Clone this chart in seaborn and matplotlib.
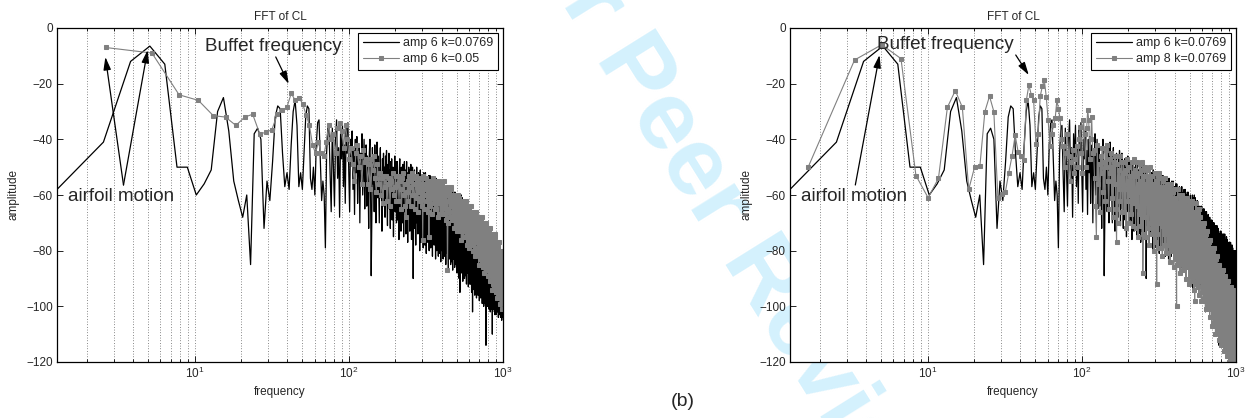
import numpy as np
import pandas as pd
import matplotlib
matplotlib.use("Agg")
import matplotlib.pyplot as plt
import seaborn as sns
from matplotlib.ticker import LogLocator, NullFormatter, FixedLocator

# ---------------- data (dB amplitude per FFT bin) ----------------
# series "amp 6 k=0.0769" (same in both panels), bins up to 1000 Hz
black_db = [
    -58, -41, -12, -6.5, -13, -50, -50, -60, -56, -51,
    -30, -25, -37, -55, -62, -68, -60, -85, -38, -36,
    -40, -72, -55, -62, -48, -32, -28, -29, -45, -57,
    -52, -58, -42, -30, -26, -35, -57, -52, -58, -45,
    -32, -28, -29, -54, -58, -50, -60, -42, -34, -33,
    -48, -62, -55, -60, -79, -45, -36, -35, -52, -66,
    -36, -50, -64, -40, -33, -54, -43, -68, -38, -47, -35, -57, -42, -63, -36, -45, -34, -52, -66, -40,
    -47, -37, -58, -44, -67, -40, -52, -39, -63, -49, -42, -70, -45, -53, -38, -60, -50, -40, -65, -47,
    -42, -64, -46, -54, -72, -45, -40, -59, -89, -69, -43, -56, -48, -66, -42, -53, -70, -46, -41, -61,
    -46, -58, -70, -49, -43, -61, -52, -73, -47, -55, -45, -64, -50, -68, -46, -54, -44, -60, -71, -49,
    -54, -45, -65, -51, -72, -48, -59, -47, -69, -56, -50, -75, -53, -60, -46, -66, -57, -48, -70, -54,
    -48, -69, -53, -60, -76, -51, -47, -64, -56, -73, -50, -62, -54, -70, -49, -59, -75, -53, -48, -66,
    -51, -62, -74, -54, -48, -65, -57, -77, -52, -60, -50, -68, -55, -73, -51, -58, -49, -64, -76, -54,
    -58, -50, -68, -90, -75, -53, -63, -51, -72, -60, -54, -78, -57, -64, -50, -70, -61, -53, -74, -58,
    -52, -73, -57, -64, -80, -55, -51, -68, -60, -77, -54, -66, -58, -74, -53, -63, -79, -57, -52, -70,
    -55, -66, -78, -58, -52, -69, -61, -81, -56, -64, -54, -72, -59, -77, -55, -62, -53, -68, -80, -58,
    -62, -53, -72, -59, -79, -56, -66, -55, -76, -63, -57, -82, -60, -68, -54, -73, -65, -56, -78, -62,
    -55, -76, -60, -67, -83, -58, -54, -71, -63, -80, -57, -69, -61, -77, -56, -66, -82, -60, -55, -73,
    -58, -69, -81, -61, -55, -72, -64, -84, -59, -67, -57, -75, -62, -80, -58, -65, -56, -71, -83, -61,
    -65, -56, -75, -62, -82, -59, -69, -58, -79, -66, -60, -85, -63, -71, -57, -76, -68, -59, -81, -65,
    -58, -79, -63, -70, -86, -61, -57, -74, -66, -83, -60, -72, -64, -80, -59, -69, -85, -63, -58, -76,
    -61, -72, -84, -64, -58, -75, -67, -87, -62, -70, -60, -78, -65, -83, -61, -68, -59, -74, -86, -64,
    -68, -59, -78, -65, -85, -62, -72, -61, -82, -69, -63, -88, -66, -74, -60, -79, -71, -62, -84, -68,
    -62, -82, -66, -73, -90, -64, -60, -78, -69, -95, -63, -75, -67, -84, -61, -72, -88, -66, -60, -80,
    -64, -76, -88, -67, -61, -79, -70, -91, -65, -73, -63, -82, -68, -87, -64, -72, -62, -78, -90, -67,
    -72, -63, -82, -69, -89, -66, -76, -65, -86, -73, -67, -92, -70, -78, -64, -83, -75, -66, -88, -72,
    -65, -86, -70, -77, -93, -68, -64, -81, -73, -90, -67, -79, -71, -87, -66, -76, -92, -70, -65, -83,
    -68, -80, -92, -71, -65, -83, -74, -95, -69, -77, -67, -86, -72, -90, -102, -76, -66, -82, -94, -71,
    -75, -66, -86, -72, -93, -69, -80, -68, -90, -76, -70, -96, -73, -81, -67, -87, -78, -69, -92, -75,
    -69, -90, -74, -81, -97, -72, -68, -85, -77, -94, -71, -83, -75, -91, -70, -80, -96, -74, -69, -87,
    -72, -84, -95, -75, -69, -86, -78, -98, -73, -81, -71, -89, -76, -94, -72, -79, -70, -85, -97, -75,
    -79, -70, -89, -76, -96, -73, -83, -72, -93, -80, -74, -99, -77, -85, -71, -90, -82, -73, -95, -79,
    -72, -93, -77, -84, -100, -75, -71, -88, -80, -97, -74, -86, -78, -94, -73, -83, -99, -77, -72, -90,
    -75, -86, -98, -78, -114, -89, -81, -101, -76, -84, -74, -92, -79, -97, -75, -82, -73, -88, -100, -78,
    -81, -73, -91, -79, -98, -76, -86, -74, -95, -83, -77, -101, -80, -87, -74, -93, -84, -76, -97, -81,
    -75, -95, -80, -87, -102, -78, -74, -91, -82, -99, -77, -88, -81, -96, -76, -85, -101, -80, -74, -92,
    -78, -88, -99, -80, -110, -91, -83, -102, -79, -86, -76, -94, -82, -98, -78, -84, -75, -90, -101, -80,
    -84, -76, -94, -81, -100, -79, -88, -77, -98, -85, -80, -103, -83, -90, -77, -95, -87, -79, -99, -84,
    -78, -97, -82, -89, -103, -81, -77, -93, -85, -100, -80, -90, -84, -98, -79, -87, -102, -82, -77, -94,
    -81, -91, -101, -83, -78, -94, -86, -104, -82, -88, -79, -96, -85, -100, -81, -87, -78, -92, -103, -83,
    -87, -79, -95, -84, -102, -82, -90, -80, -99, -88, -83, -104, -85, -92, -80, -97, -89, -82, -100, -87,
    -81, -99, -85, -91, -105, -84, -80, -95, -88, -102, -83, -93, -86, -100, -82, -90, -104, -85, -80, -96,
]

# series "amp 6 k=0.05" (left panel)
gray_left_db = [
    -7, -9, -24, -26, -31.5, -32, -35, -32, -31, -38,
    -37.5, -36.5, -31, -29.5, -28.5, -23.5, -26, -25, -27.3, -31.2,
    -35, -42, -45, -41, -45, -46, -41, -35, -40, -38,
    -45, -36, -34, -37, -43, -35, -40, -47,
    -43, -49, -55, -45, -42, -50, -46, -56, -44, -48, -47, -56, -49, -58, -47, -51, -46, -54, -59, -49,
    -56, -52, -60, -54, -63, -53, -57, -53, -62, -56, -54, -64, -55, -58, -52, -60, -57, -53, -62, -56,
    -53, -62, -55, -58, -65, -54, -52, -60, -56, -64, -68, -59, -55, -62, -53, -57, -64, -55, -52, -60,
    -54, -60, -65, -56, -53, -61, -57, -66, -55, -59, -54, -62, -56, -64, -54, -76, -53, -60, -65, -56,
    -58, -54, -62, -57, -66, -55, -75, -55, -64, -59, -56, -67, -57, -61, -54, -63, -59, -55, -65, -58,
    -56, -65, -58, -61, -68, -57, -55, -63, -59, -67, -56, -62, -58, -65, -56, -60, -67, -58, -55, -63,
    -58, -64, -69, -60, -57, -65, -87, -70, -59, -62, -58, -66, -60, -68, -58, -62, -57, -64, -69, -60,
    -64, -60, -68, -63, -72, -61, -66, -61, -70, -65, -62, -73, -63, -67, -60, -69, -65, -61, -71, -64,
    -63, -73, -65, -68, -76, -64, -62, -70, -66, -75, -63, -69, -66, -73, -63, -68, -75, -65, -62, -71,
    -66, -72, -78, -67, -64, -73, -69, -79, -66, -70, -65, -75, -68, -77, -66, -69, -64, -72, -78, -67,
    -71, -66, -76, -69, -80, -68, -73, -67, -79, -72, -68, -82, -70, -74, -66, -77, -72, -68, -80, -71,
    -69, -81, -71, -76, -85, -71, -68, -78, -73, -83, -70, -77, -72, -82, -69, -75, -84, -71, -68, -79,
    -72, -79, -86, -74, -70, -81, -75, -88, -73, -77, -71, -83, -75, -85, -72, -76, -70, -80, -87, -74,
    -78, -72, -84, -76, -89, -74, -81, -73, -87, -79, -75, -91, -77, -82, -72, -85, -80, -74, -88, -78,
    -75, -89, -78, -83, -94, -77, -74, -86, -80, -92, -76, -84, -79, -90, -75, -82, -93, -78, -74, -87,
    -79, -87, -95, -81, -77, -89, -83, -97, -80, -85, -78, -91, -82, -94, -79, -84, -77, -88, -96, -81,
    -86, -80, -94, -84, -99, -82, -89, -81, -97, -87, -83, -101, -85, -90, -80, -95, -88, -82, -98, -86,
]

# series "amp 8 k=0.0769" (right panel)
gray_right_db = [
    -50, -11.5, -6, -11, -53, -61, -54, -28.5, -22.5, -28.5,
    -58, -50, -49.5, -30, -24.5, -30, -61, -59.5, -59, -52,
    -46, -38.5, -44.5, -46, -47.5, -26, -20.5, -24, -26, -41.5,
    -38, -24.5, -21, -18.7, -24.7, -33, -42.5, -38, -35, -32.5,
    -26, -29, -32.5, -40, -42.5, -50, -45, -38, -46, -55,
    -48, -44, -52, -47, -42.5, -50, -40, -35.5, -45, -52,
    -33, -38, -50, -36, -29.5, -33, -47, -40, -32, -45,
    -44, -54, -64, -75, -42, -56, -49, -66, -46, -52, -43, -59, -48, -62, -44, -50, -42, -55, -65, -47,
    -52, -45, -61, -50, -68, -48, -56, -46, -65, -77, -49, -70, -51, -58, -46, -62, -55, -48, -66, -52,
    -48, -66, -52, -58, -72, -51, -47, -62, -55, -70, -50, -60, -53, -67, -48, -57, -71, -52, -47, -63,
    -51, -62, -72, -53, -48, -64, -56, -75, -52, -59, -49, -67, -55, -71, -51, -57, -48, -88, -74, -53,
    -58, -50, -68, -56, -75, -53, -63, -51, -72, -60, -54, -78, -57, -64, -50, -70, -61, -53, -74, -58,
    -53, -73, -58, -65, -80, -56, -52, -69, -60, -77, -55, -92, -59, -74, -53, -63, -79, -58, -52, -70,
    -57, -68, -79, -60, -54, -71, -62, -82, -58, -65, -55, -74, -61, -78, -57, -64, -54, -69, -81, -60,
    -64, -56, -74, -62, -81, -59, -69, -57, -78, -66, -60, -84, -63, -70, -56, -76, -67, -59, -80, -64,
    -59, -79, -64, -71, -86, -62, -58, -75, -66, -83, -61, -72, -65, -80, -100, -69, -85, -64, -58, -76,
    -63, -74, -85, -66, -60, -77, -68, -88, -64, -71, -61, -80, -67, -84, -63, -70, -60, -75, -87, -66,
    -70, -61, -80, -67, -87, -64, -74, -62, -84, -71, -65, -90, -68, -76, -61, -81, -73, -64, -86, -70,
    -64, -85, -68, -76, -92, -67, -62, -80, -71, -89, -65, -77, -70, -86, -64, -74, -91, -68, -62, -82,
    -66, -79, -91, -69, -63, -82, -72, -94, -68, -75, -98, -85, -71, -89, -66, -74, -63, -80, -92, -69,
    -74, -65, -85, -71, -93, -68, -79, -67, -90, -76, -70, -96, -73, -81, -65, -87, -77, -68, -91, -74,
    -71, -91, -76, -83, -98, -74, -70, -87, -78, -95, -73, -84, -77, -92, -71, -81, -97, -76, -70, -88,
    -76, -87, -98, -79, -73, -90, -81, -101, -77, -84, -74, -93, -80, -97, -76, -83, -73, -88, -100, -79,
    -84, -76, -94, -82, -101, -79, -89, -77, -98, -86, -80, -104, -83, -90, -76, -96, -87, -79, -100, -84,
    -80, -100, -85, -92, -107, -83, -79, -96, -87, -104, -82, -93, -86, -101, -80, -90, -106, -85, -79, -97,
    -85, -96, -107, -88, -82, -99, -90, -110, -86, -93, -83, -102, -89, -106, -85, -92, -82, -97, -109, -88,
    -93, -85, -103, -90, -109, -88, -97, -86, -107, -94, -89, -112, -92, -99, -85, -104, -96, -88, -108, -93,
    -88, -107, -92, -99, -114, -91, -87, -103, -95, -111, -90, -101, -94, -109, -88, -98, -113, -92, -87, -105,
    -92, -103, -113, -94, -89, -105, -97, -116, -93, -100, -90, -108, -96, -112, -92, -98, -89, -104, -115, -94,
    -99, -91, -109, -96, -115, -94, -103, -92, -113, -100, -95, -118, -98, -105, -91, -110, -102, -94, -114, -99,
    -94, -113, -98, -105, -120, -97, -93, -109, -101, -117, -96, -107, -100, -115, -94, -104, -119, -98, -93, -111,
    -97, -108, -118, -99, -94, -110, -102, -121, -98, -105, -95, -113, -101, -117, -97, -103, -94, -109, -120, -99,
    -103, -95, -113, -100, -119, -98, -107, -96, -117, -104, -99, -122, -102, -109, -95, -114, -106, -98, -118, -103,
    -97, -112, -101, -118, -106,
]

f_max = 1000.0  # highest frequency bin of every series
labels_left = ["amp 6 k=0.0769", "amp 6 k=0.05"]
labels_right = ["amp 6 k=0.0769", "amp 8 k=0.0769"]
y_ticks = [-120, -100, -80, -60, -40, -20, 0]


def bins(values):
    n = len(values)
    return np.arange(1, n + 1) * (f_max / n)


black_f = bins(black_db)
gl_f = bins(gray_left_db)
gr_f = bins(gray_right_db)

# ---------------- style ----------------
sns.set_style("ticks")
plt.rcParams['font.family'] = ['Liberation Sans', 'DejaVu Sans']
plt.rcParams['axes.unicode_minus'] = True
plt.rcParams['axes.linewidth'] = 0.9

fig = plt.figure(figsize=(12.51, 4.18), dpi=100)
fig.patch.set_facecolor('white')

# faint watermark behind the panels
fig.text(0.575, 0.5, "For Peer Review", rotation=-58, fontsize=70, fontweight='bold',
         color='#d4f1fd', ha='center', va='center', zorder=-5)

axL = fig.add_axes([57 / 1251, 1 - 362 / 418, 446 / 1251, 334 / 418])
axR = fig.add_axes([790 / 1251, 1 - 362 / 418, 446 / 1251, 334 / 418])

GRAY = '#808080'
FS = 8.5


def draw(ax, gray_f, gray_db, labels):
    sns.lineplot(x=black_f, y=black_db, ax=ax, color='black', linewidth=0.9,
                 estimator=None, sort=False, label=labels[0])
    sns.lineplot(x=gray_f, y=gray_db, ax=ax, color=GRAY, linewidth=0.8,
                 marker='s', markersize=3.4, markeredgecolor=GRAY, markerfacecolor=GRAY,
                 estimator=None, sort=False, label=labels[1])
    ax.set_xscale('log')
    ax.set_xlim(black_f[0], f_max)
    ax.set_ylim(-120, 0)
    ax.yaxis.set_major_locator(FixedLocator(y_ticks))
    ax.xaxis.set_major_locator(LogLocator(base=10, numticks=10))
    ax.xaxis.set_minor_locator(LogLocator(base=10, subs=np.arange(2, 10), numticks=20))
    ax.xaxis.set_minor_formatter(NullFormatter())
    ax.xaxis.grid(True, which='both', linestyle=(0, (1, 2.5)), color='#444444', linewidth=0.55)
    ax.yaxis.grid(False)
    for s in ax.spines.values():
        s.set_visible(True)
        s.set_color('black')
    ax.tick_params(which='both', direction='in', top=True, right=True, color='black',
                   labelsize=FS, width=0.6)
    ax.tick_params(which='major', length=4, pad=3)
    ax.tick_params(which='minor', length=2)
    ax.set_title("FFT of CL", fontsize=FS, pad=6)
    ax.set_xlabel("frequency", fontsize=FS, labelpad=3)
    ax.set_ylabel("amplitude", fontsize=FS, labelpad=5)
    leg = ax.legend(loc='upper right', fontsize=9, frameon=True, fancybox=False,
                    edgecolor='black', framealpha=1, handlelength=2.9,
                    borderaxespad=0.4, labelspacing=0.3, borderpad=0.35,
                    handletextpad=0.35)
    leg.get_frame().set_linewidth(0.8)


draw(axL, gl_f, gray_left_db, labels_left)
draw(axR, gr_f, gray_right_db, labels_right)

arrow = dict(arrowstyle='-|>,head_length=0.55,head_width=0.16', color='black',
             lw=0.9, shrinkA=0, shrinkB=0, mutation_scale=14)

ANN = 13.6
# left panel annotations
axL.text(1.5, -60.5, "airfoil motion", fontsize=ANN, ha='left', va='center')
axL.annotate('', xy=(2.64, -10.4), xytext=(3.46, -56.4), arrowprops=arrow)
axL.annotate('', xy=(4.96, -7.9), xytext=(3.46, -56.4), arrowprops=arrow)
axL.text(11.6, -6.8, "Buffet frequency", fontsize=ANN, ha='left', va='center')
axL.annotate('', xy=(40.8, -20.1), xytext=(33.6, -10.4), arrowprops=arrow)

# right panel annotations
axR.text(1.52, -60.5, "airfoil motion", fontsize=ANN, ha='left', va='center')
axR.annotate('', xy=(4.88, -9.7), xytext=(3.4, -56.4), arrowprops=arrow)
axR.text(4.73, -6.1, "Buffet frequency", fontsize=ANN, ha='left', va='center')
axR.annotate('', xy=(45.3, -16.9), xytext=(37.3, -9.7), arrowprops=arrow)

fig.text(0.546, 0.04, "(b)", fontsize=14, ha='center', va='center')

fig.savefig("out.png", dpi=100, facecolor='white')
